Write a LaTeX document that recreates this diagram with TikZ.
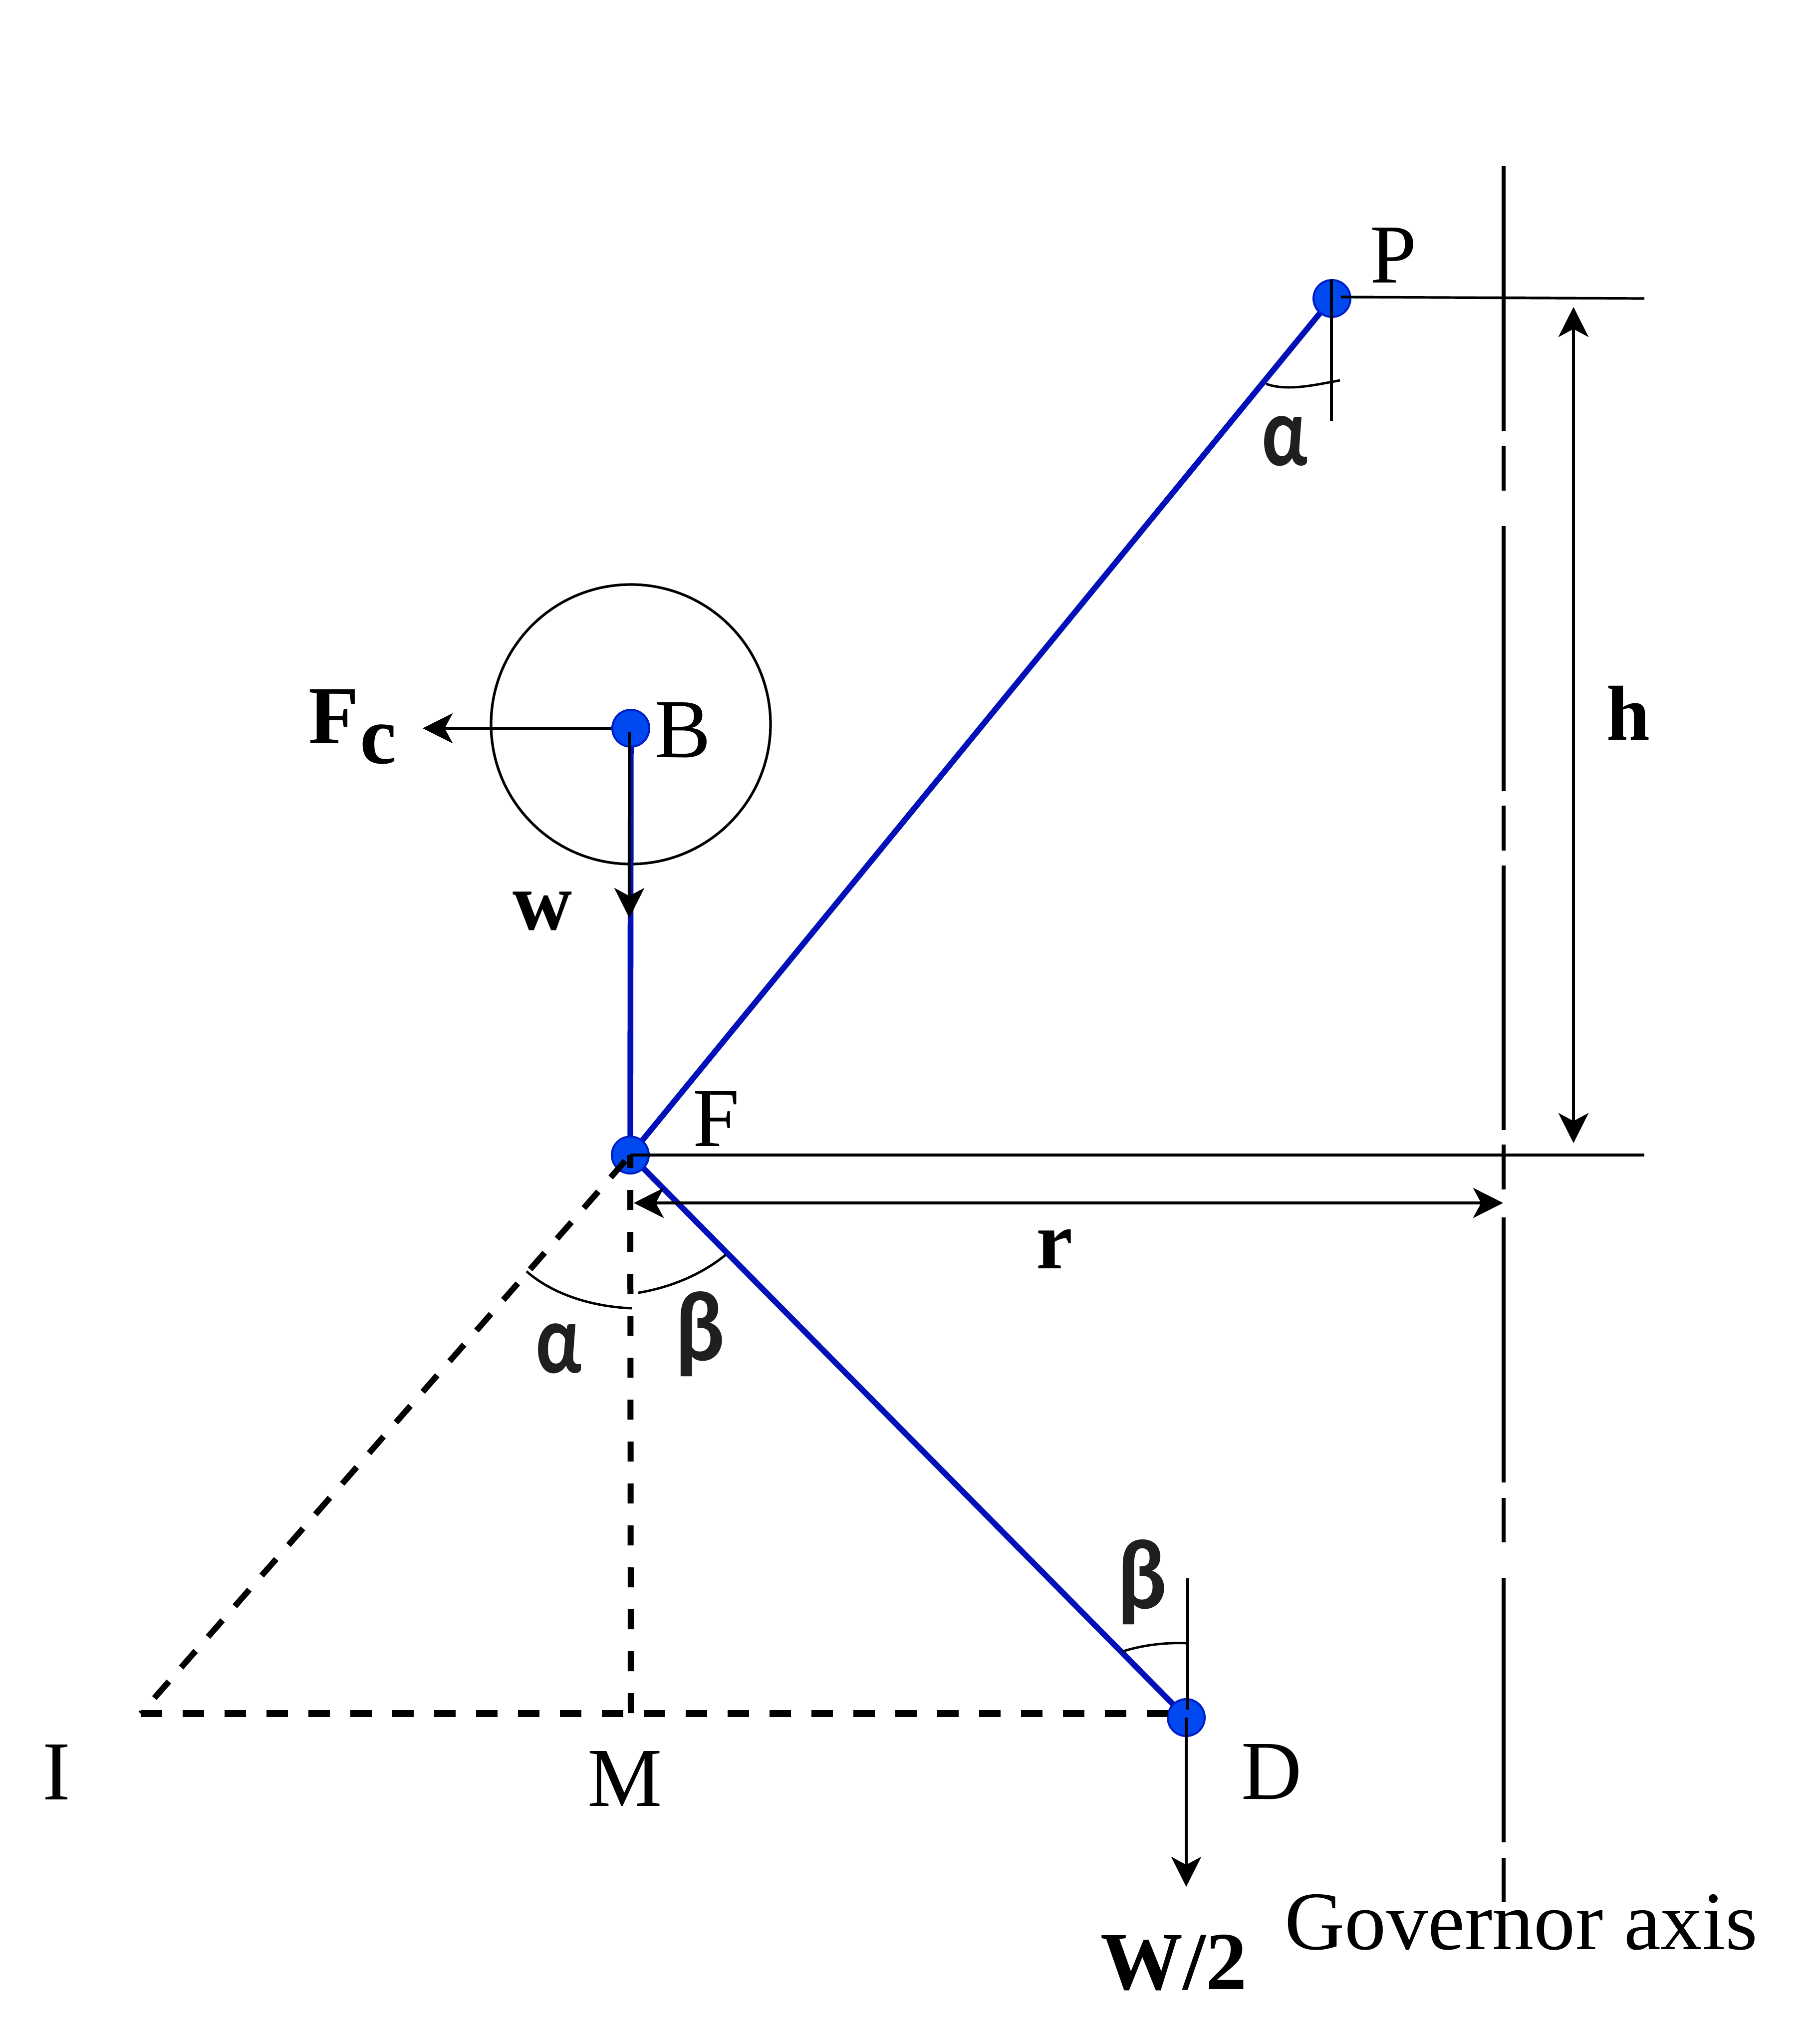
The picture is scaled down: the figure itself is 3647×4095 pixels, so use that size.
\documentclass[tikz,border=0pt]{standalone}
\usepackage{fontspec}
\setmainfont{Liberation Serif}
\newfontfamily\grkfont{Carlito}
\usetikzlibrary{arrows.meta}
\definecolor{linkblue}{RGB}{2,16,186}
\definecolor{pinblue}{RGB}{0,72,240}
\definecolor{pinedge}{RGB}{0,30,200}
\tikzset{
  pin/.style={circle,fill=pinblue,draw=pinedge,line width=1pt,minimum size=18.5pt,inner sep=0pt},
  link/.style={draw=linkblue,line width=2.9pt},
  thin line/.style={draw=black,line width=1.3pt},
  axisline/.style={draw=black,line width=1.9pt},
  dim/.style={draw=black,line width=1.6pt,{Stealth[length=15pt,width=15pt,inset=4pt]}-{Stealth[length=15pt,width=15pt,inset=4pt]}},
  force/.style={draw=black,line width=1.4pt,-{Stealth[length=15pt,width=15pt,inset=4pt]}},
  construct/.style={draw=black,line width=3pt},
  arcline/.style={draw=black,line width=1.2pt},
  lab/.style={anchor=base west,inner sep=0pt,font=\fontsize{42}{42}\selectfont},
  blab/.style={anchor=base west,inner sep=0pt,font=\fontsize{41.25}{42}\selectfont\bfseries},
  glab/.style={anchor=base west,inner sep=0pt,text=black!88,font=\fontsize{50}{50}\selectfont\grkfont\bfseries},
}
\begin{document}
\begin{tikzpicture}[x=0.25pt,y=-0.25pt]
\useasboundingbox (0,0) rectangle (3647,4095);
% named points
\coordinate (I) at (282,3433);
\coordinate (M) at (1264,3433);
\coordinate (Dleft) at (2340,3433);
\coordinate (Pc) at (2669,598);
\coordinate (Fc) at (1263,2314);
\coordinate (Bc) at (1264,1459);
\coordinate (Dc) at (2377,3441);
% ball
\node[circle,draw=black,line width=1.3pt,minimum size=140pt,inner sep=0pt] (ball) at (1264,1451) {};
% links
\draw[link] (Bc) -- (Fc);
\draw[link] (Pc) -- (Fc);
\draw[link] (Fc) -- (Dc);
% pins
\node[pin] (P) at (Pc) {};
\node[pin] (F) at (Fc) {};
\node[pin] (B) at (Bc) {};
\node[pin] (D) at (Dc) {};
% construction lines
\draw[construct,dash pattern=on 11pt off 9.4pt,dash phase=16.5pt] (F.center) -- (I);
\draw[construct,dash pattern=on 10pt off 11pt,dash phase=3.5pt] (1263,2314) -- (M);
\draw[construct,line width=3.4pt,dash pattern=on 10.75pt off 10.25pt] (I) -- (Dleft);
% governor axis
\draw[axisline] (3013,333)--(3013,864) (3013,893)--(3013,983) (3013,1054)--(3013,1585)
  (3013,1614)--(3013,1704) (3013,1734)--(3013,2264) (3013,2293)--(3013,2383)
  (3013,2439)--(3013,2970) (3013,3001)--(3013,3090) (3013,3161)--(3013,3691)
  (3013,3722)--(3013,3811);
% reference lines
\coordinate (Pr) at (3295,598);
\coordinate (Fr) at (3295,2314);
\coordinate (Ptick) at (2668,843);
\coordinate (Ptop) at (2668,560);
\coordinate (Dtick) at (2380,3162);
\coordinate (Dbot) at (2380,3425);
\draw[thin line] (2687,595) -- (Pr);
\draw[thin line,line width=1.5pt] (F.center) -- (Fr);
\draw[thin line] (Ptop) -- (Ptick);
\draw[thin line] (Dtick) -- (Dbot);
% dimensions
\coordinate (hT) at (3153,615);
\coordinate (hB) at (3153,2290);
\coordinate (rL) at (1270,2410);
\coordinate (rR) at (3012,2410);
\draw[dim] (hT) -- (hB);
\draw[dim] (rL) -- (rR);
% forces
\coordinate (FcTip) at (847,1459);
\coordinate (wS) at (1261,1466);
\coordinate (wTip) at (1261,1839);
\coordinate (WTip) at (2377,3780);
\draw[force] (B.west) -- (FcTip);
\draw[force] (wS) -- (wTip);
\draw[force] (D.center) -- (WTip);
% angle arcs
\draw[arcline] (2537,769) .. controls (2580,785) and (2640,770) .. (2685,762);
\draw[arcline] (1055,2547) .. controls (1110,2595) and (1190,2618) .. (1266,2621);
\draw[arcline] (1454,2514) .. controls (1410,2550) and (1350,2578) .. (1279,2590);
\draw[arcline] (2248,3309) .. controls (2285,3297) and (2330,3290) .. (2380,3292);
% labels
\node[lab] (lP) at (2745,566) {P};
\node[lab] (lF) at (1388,2296) {F};
\node[lab] (lB) at (1312,1517) {B};
\node[lab] (lD) at (2487,3604) {D};
\node[lab] (lI) at (85,3605) {I};
\node[lab] (lM) at (1177,3618) {M};
\node[lab,font=\fontsize{41.6}{42}\selectfont] (lG) at (2574,3905) {Governor axis};
\node[blab] (lW) at (2205,3985) {W/2};
\node[blab] (lFc) at (618,1489) {F\hspace{0.5pt}\raisebox{-10pt}{c}};
\node[blab] (lw) at (1027,1862) {w};
\node[blab,font=\fontsize{39}{42}\selectfont\bfseries] (lh) at (3219,1482) {h};
\node[blab] (lr) at (2076,2541) {r};
\node[glab] (a1) at (2528,932) {\scalebox{0.78}[1]{α}};
\node[glab] (a2) at (1073,2750) {\scalebox{0.78}[1]{α}};
\node[glab] (b1) at (1352,2725) {\scalebox{0.92}[1]{β}};
\node[glab] (b2) at (2238,3222) {\scalebox{0.92}[1]{β}};
\end{tikzpicture}
\end{document}
